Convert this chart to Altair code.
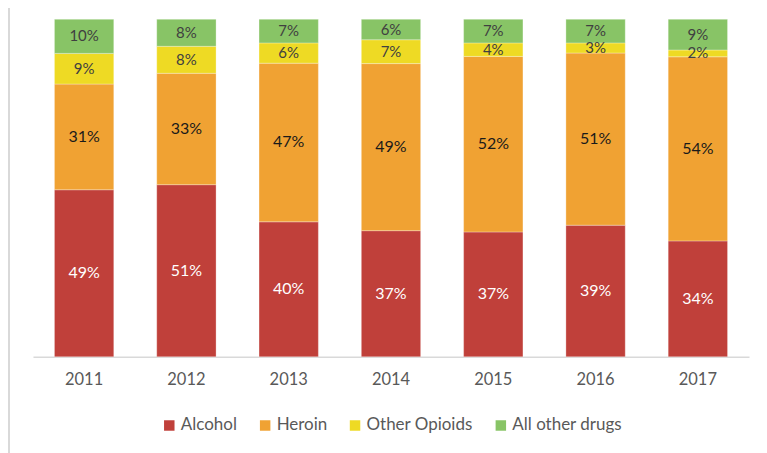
import altair as alt
import pandas as pd

years = ["2011", "2012", "2013", "2014", "2015", "2016", "2017"]
categories = ["Alcohol", "Heroin", "Other Opioids", "All other drugs"]
alcohol = [49, 51, 40, 37, 37, 39, 34]
heroin = [31, 33, 47, 49, 52, 51, 54]
other_opioids = [9, 8, 6, 7, 4, 3, 2]
all_other = [10, 8, 7, 6, 7, 7, 9]
colors = ["#C0403A", "#F0A233", "#EEDA24", "#88C466"]
label_colors = ["#FFFFFF", "#1A1A1A", "#404040", "#404040"]
label_sizes = [16, 16, 15, 15]

series = [alcohol, heroin, other_opioids, all_other]
rows = []
for ci, (cat, vals) in enumerate(zip(categories, series)):
    for y, v in zip(years, vals):
        rows.append({"year": y, "category": cat, "value": v, "order": ci,
                     "label": f"{v}%", "lcolor": label_colors[ci], "lsize": label_sizes[ci]})
df = pd.DataFrame(rows)

W, H = 717, 338

base = alt.Chart(df).transform_stack(
    stack="value", groupby=["year"], sort=[alt.SortField("order", "ascending")],
    as_=["v0", "v1"], offset="normalize"
).transform_calculate(mid="(datum.v0 + datum.v1) / 2")

x = alt.X("year:N", title=None, sort=years,
          scale=alt.Scale(paddingInner=0.42, paddingOuter=0.21),
          axis=alt.Axis(labelAngle=0, ticks=False, domainColor="#D9D9D9", domainWidth=1.5,
                        labelFont="Lato", labelFontSize=16.5, labelColor="#595959",
                        labelPadding=15))
yscale = alt.Scale(domain=[0, 1])

bars = base.mark_bar(stroke="white", strokeWidth=0.5, strokeOpacity=0.6).encode(
    x=x,
    y=alt.Y("v0:Q", scale=yscale, axis=None),
    y2="v1:Q",
    color=alt.Color("category:N", sort=categories,
                    scale=alt.Scale(domain=categories, range=colors),
                    legend=alt.Legend(title=None, orient="none", legendX=128, legendY=398,
                                      direction="horizontal", symbolType="square",
                                      symbolSize=110, symbolStrokeWidth=0,
                                      labelFont="Lato", labelFontSize=17, labelColor="#595959",
                                      columnPadding=19, labelOffset=3)),
)

texts = base.mark_text(font="Lato", baseline="middle").encode(
    x=alt.X("year:N", sort=years),
    y=alt.Y("mid:Q", scale=yscale),
    text="label:N",
    color=alt.Color("lcolor:N", scale=None, legend=None),
    size=alt.Size("lsize:Q", scale=None, legend=None),
)

border = alt.Chart(pd.DataFrame({"a": [0]})).mark_rule(color="#D9D9D9", strokeWidth=2).encode(
    x=alt.value(-24), y=alt.value(-14), y2=alt.value(H + 100)
)

chart = alt.layer(bars, texts, border).properties(
    width=W, height=H,
    autosize=alt.AutoSizeParams(type="none"),
    padding={"left": 25, "top": 11, "right": 10, "bottom": 100},
).configure_view(stroke=None)

chart.save("out.html", embed_options={"renderer": "svg", "actions": False})
